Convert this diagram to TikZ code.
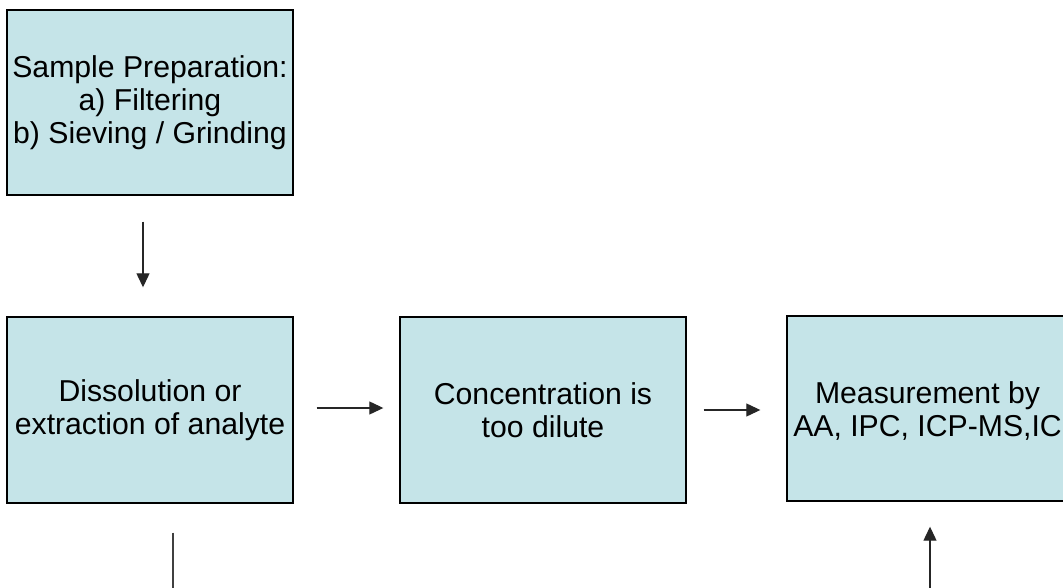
\documentclass[tikz,border=0pt]{standalone}
\usepackage{fontspec}
\setmainfont{Liberation Sans}
\usetikzlibrary{arrows.meta}
\definecolor{boxfill}{RGB}{197,228,232}
\begin{document}
\begin{tikzpicture}[x=1pt,y=1pt,
  boxtext/.style={align=center, text=black, inner sep=0pt, font=\fontsize{30.2}{33}\selectfont},
  procbox/.style={boxtext, draw=black, line width=1.4pt, fill=boxfill, minimum width=286pt,
    minimum height=186pt},
  arr/.style={line width=1.2pt, draw=black!85, -{Triangle[length=14pt,width=13pt]}},
  plain/.style={line width=1.2pt, draw=black!75}]
\clip (0,0) rectangle (1063,-588);
\fill[white] (0,0) rectangle (1063,-588);
\node[procbox, minimum height=185pt] (b1) at (150,-102.5) {Sample Preparation:\\a) Filtering\\b) Sieving / Grinding};
\node[procbox] (b2) at (150,-410) {Dissolution or\\extraction of analyte};
\node[procbox] (b3) at (543,-410) {Concentration is\\too dilute};
\node[procbox, minimum height=185pt] (b4) at (930,-408.5) {};
\node[boxtext] (t4) at ([xshift=-2.5pt,yshift=-2pt]b4.center) {Measurement by\\AA, IPC, ICP-MS,IC};
\coordinate (d2) at (173,-600);
\coordinate (u4) at (930,-600);
\draw[arr] ([xshift=-7pt,yshift=-26pt]b1.south) -- ([xshift=-7pt,yshift=29pt]b2.north);
\draw[arr] ([xshift=23pt,yshift=2pt]b2.east) -- ([xshift=-16pt,yshift=2pt]b3.west);
\draw[arr] ([xshift=17pt]b3.east) -- ([xshift=-26pt,yshift=-1.5pt]b4.west);
\draw[plain] ([xshift=23pt,yshift=-29pt]b2.south) -- (d2);
\draw[arr] (u4) -- ([yshift=-25pt]b4.south);
\end{tikzpicture}
\end{document}
